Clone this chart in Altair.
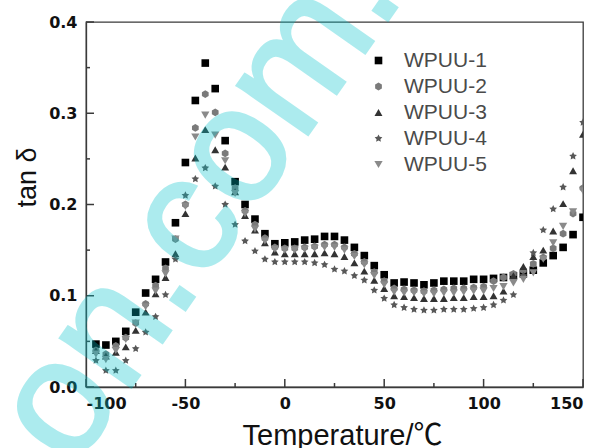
import altair as alt
import pandas as pd

temps = list(range(-95, 151, 5))

wpuu1 = [0.047, 0.046, 0.050, 0.061, 0.082, 0.103, 0.118, 0.137, 0.180, 0.246,
         0.314, 0.355, 0.327, 0.270, 0.225, 0.200, 0.184, 0.168, 0.157, 0.158,
         0.159, 0.161, 0.162, 0.165, 0.165, 0.161, 0.153, 0.144, 0.133, 0.123,
         0.114, 0.115, 0.114, 0.112, 0.114, 0.116, 0.116, 0.116, 0.118, 0.118,
         0.119, 0.120, 0.122, 0.124, 0.128, 0.136, 0.144, 0.153, 0.167, 0.186]
wpuu2 = [0.040, 0.036, 0.045, 0.054, 0.070, 0.091, 0.111, 0.130, 0.162, 0.200,
         0.284, 0.321, 0.301, 0.256, 0.218, 0.193, 0.178, 0.163, 0.153, 0.152,
         0.152, 0.153, 0.154, 0.156, 0.156, 0.153, 0.146, 0.137, 0.126, 0.116,
         0.108, 0.107, 0.106, 0.105, 0.106, 0.107, 0.108, 0.108, 0.109, 0.110,
         0.116, 0.120, 0.124, 0.128, 0.135, 0.142, 0.152, 0.168, 0.190, 0.218]
wpuu3 = [0.040, 0.034, 0.038, 0.044, 0.062, 0.082, 0.102, 0.120, 0.146, 0.190,
         0.251, 0.282, 0.260, 0.241, 0.214, 0.188, 0.172, 0.158, 0.148, 0.146,
         0.146, 0.146, 0.146, 0.147, 0.146, 0.143, 0.136, 0.127, 0.117, 0.108,
         0.100, 0.099, 0.098, 0.097, 0.097, 0.097, 0.098, 0.098, 0.099, 0.099,
         0.100, 0.105, 0.122, 0.132, 0.143, 0.150, 0.171, 0.201, 0.237, 0.277]
wpuu4 = [0.029, 0.018, 0.018, 0.029, 0.042, 0.060, 0.077, 0.101, 0.140, 0.210,
         0.228, 0.240, 0.220, 0.200, 0.178, 0.160, 0.149, 0.140, 0.137, 0.137,
         0.137, 0.137, 0.136, 0.134, 0.129, 0.127, 0.122, 0.117, 0.106, 0.097,
         0.090, 0.087, 0.085, 0.084, 0.084, 0.085, 0.085, 0.085, 0.086, 0.087,
         0.090, 0.095, 0.101, 0.122, 0.147, 0.172, 0.195, 0.219, 0.253, 0.290]
wpuu5 = [0.036, 0.030, 0.040, 0.052, 0.070, 0.088, 0.105, 0.124, 0.162, 0.198,
         0.274, 0.298, 0.276, 0.248, 0.212, 0.190, 0.173, 0.160, 0.151, 0.150,
         0.150, 0.151, 0.152, 0.153, 0.153, 0.150, 0.143, 0.134, 0.122, 0.112,
         0.104, 0.103, 0.103, 0.102, 0.102, 0.103, 0.103, 0.104, 0.105, 0.105,
         0.108, 0.110, 0.114, 0.118, 0.125, 0.140, 0.158, 0.176, 0.192, 0.215]

series_names = ["WPUU-1", "WPUU-2", "WPUU-3", "WPUU-4", "WPUU-5"]
series_values = [wpuu1, wpuu2, wpuu3, wpuu4, wpuu5]

x_major = [-100, -50, 0, 50, 100, 150]
x_minor = [-75, -25, 25, 75, 125]
y_major = [0.0, 0.1, 0.2, 0.3, 0.4]
y_minor = [0.05, 0.15, 0.25, 0.35]

HEX = "M0,-1L0.866,-0.5L0.866,0.5L0,1L-0.866,0.5L-0.866,-0.5Z"
STAR = ("M0,-1L0.294,-0.405L0.951,-0.309L0.476,0.155L0.588,0.809L0,0.5"
        "L-0.588,0.809L-0.476,0.155L-0.951,-0.309L-0.294,-0.405Z")
shapes = ["square", HEX, "triangle-up", STAR, "triangle-down"]
colors = ["#000000", "#7a7a7a", "#333333", "#585858", "#8a8a8a"]
sizes = [58, 68, 90, 105, 90]

rows = []
for name, vals in zip(series_names, series_values):
    for t, v in zip(temps, vals):
        rows.append({"T": t, "tan": v, "series": name})
df = pd.DataFrame(rows)

W, H = 497, 365
xscale = alt.Scale(domain=[-100, 150], nice=False, zero=False)
yscale = alt.Scale(domain=[0, 0.4], nice=False, zero=False)

base = alt.Chart(df)
FRAME = "#3a3a3a"
LABELFONT = "DejaVu Sans"

legend = alt.Legend(orient="none", legendX=282, legendY=28, padding=0,
                    title=None, labelFont="Liberation Sans", labelFontSize=21,
                    labelColor="#4a4a4a", symbolSize=48, labelOffset=15,
                    rowPadding=4, symbolStrokeWidth=0)

points = base.mark_point(filled=True, opacity=1, clip=True).encode(
    x=alt.X("T:Q", scale=xscale, axis=alt.Axis(
        orient="bottom", values=x_major, ticks=False, tickSize=0,
        labelPadding=8, labelFont=LABELFONT, labelFontWeight="bold",
        labelFontSize=16, labelColor="#111111", labelExpr="datum.value + ''",
        domain=True, domainColor=FRAME, domainWidth=1.3, grid=False,
        title="Temperature/℃", titleFont="Liberation Sans, Noto Sans CJK SC",
        titleFontSize=29, titleFontWeight="normal", titleColor="#111111",
        titleX=256, titleY=57, titleBaseline="alphabetic", titleAlign="center")),
    y=alt.Y("tan:Q", scale=yscale, axis=alt.Axis(
        orient="left", values=y_major, ticks=False, tickSize=0,
        labelPadding=9, labelFont=LABELFONT, labelFontWeight="bold",
        labelFontSize=16, labelColor="#111111",
        labelExpr="format(datum.value, '.1f')",
        domain=True, domainColor=FRAME, domainWidth=1.3, grid=False,
        title="tan  δ", titleFont="Liberation Sans", titleFontSize=27,
        titleFontWeight="normal", titleColor="#111111", titleAngle=270,
        titleX=-51, titleY=155, titleBaseline="alphabetic", titleAlign="center")),
    color=alt.Color("series:N", scale=alt.Scale(domain=series_names, range=colors), legend=legend),
    shape=alt.Shape("series:N", scale=alt.Scale(domain=series_names, range=shapes), legend=legend),
    size=alt.Size("series:N", scale=alt.Scale(domain=series_names, range=sizes), legend=None),
)


def x_ticks(values, length):
    return alt.Chart(pd.DataFrame({"v": values})).mark_tick(
        color=FRAME, thickness=1.5, size=length, opacity=1).encode(
        x=alt.X("v:Q", scale=xscale, axis=None),
        y=alt.value(H - length / 2))


def y_ticks(values, length):
    return alt.Chart(pd.DataFrame({"v": values})).mark_tick(
        color=FRAME, thickness=1.5, size=length, opacity=1).encode(
        y=alt.Y("v:Q", scale=yscale, axis=None),
        x=alt.value(length / 2))


wm = alt.Chart(pd.DataFrame({"t": ["on.com."]})).mark_text(
    angle=305, fontSize=163, font="Liberation Sans", color="#00c4cc",
    stroke="#00c4cc", strokeWidth=3, opacity=0.32,
    align="center", baseline="alphabetic").encode(
    text="t:N", x=alt.value(153), y=alt.value(211))

chart = alt.layer(
    points,
    x_ticks(x_major, 8),
    x_ticks(x_minor, 4),
    y_ticks(y_major, 8),
    y_ticks(y_minor, 4),
    wm,
).resolve_axis(x="independent", y="independent").properties(
    width=W, height=H,
    autosize=alt.AutoSizeParams(type="none"),
    padding={"left": 86, "top": 22, "right": 15, "bottom": 61},
    background="white",
).configure_view(stroke=FRAME, strokeWidth=1.3)

chart.save("out.html", embed_options={"renderer": "svg", "actions": False})
